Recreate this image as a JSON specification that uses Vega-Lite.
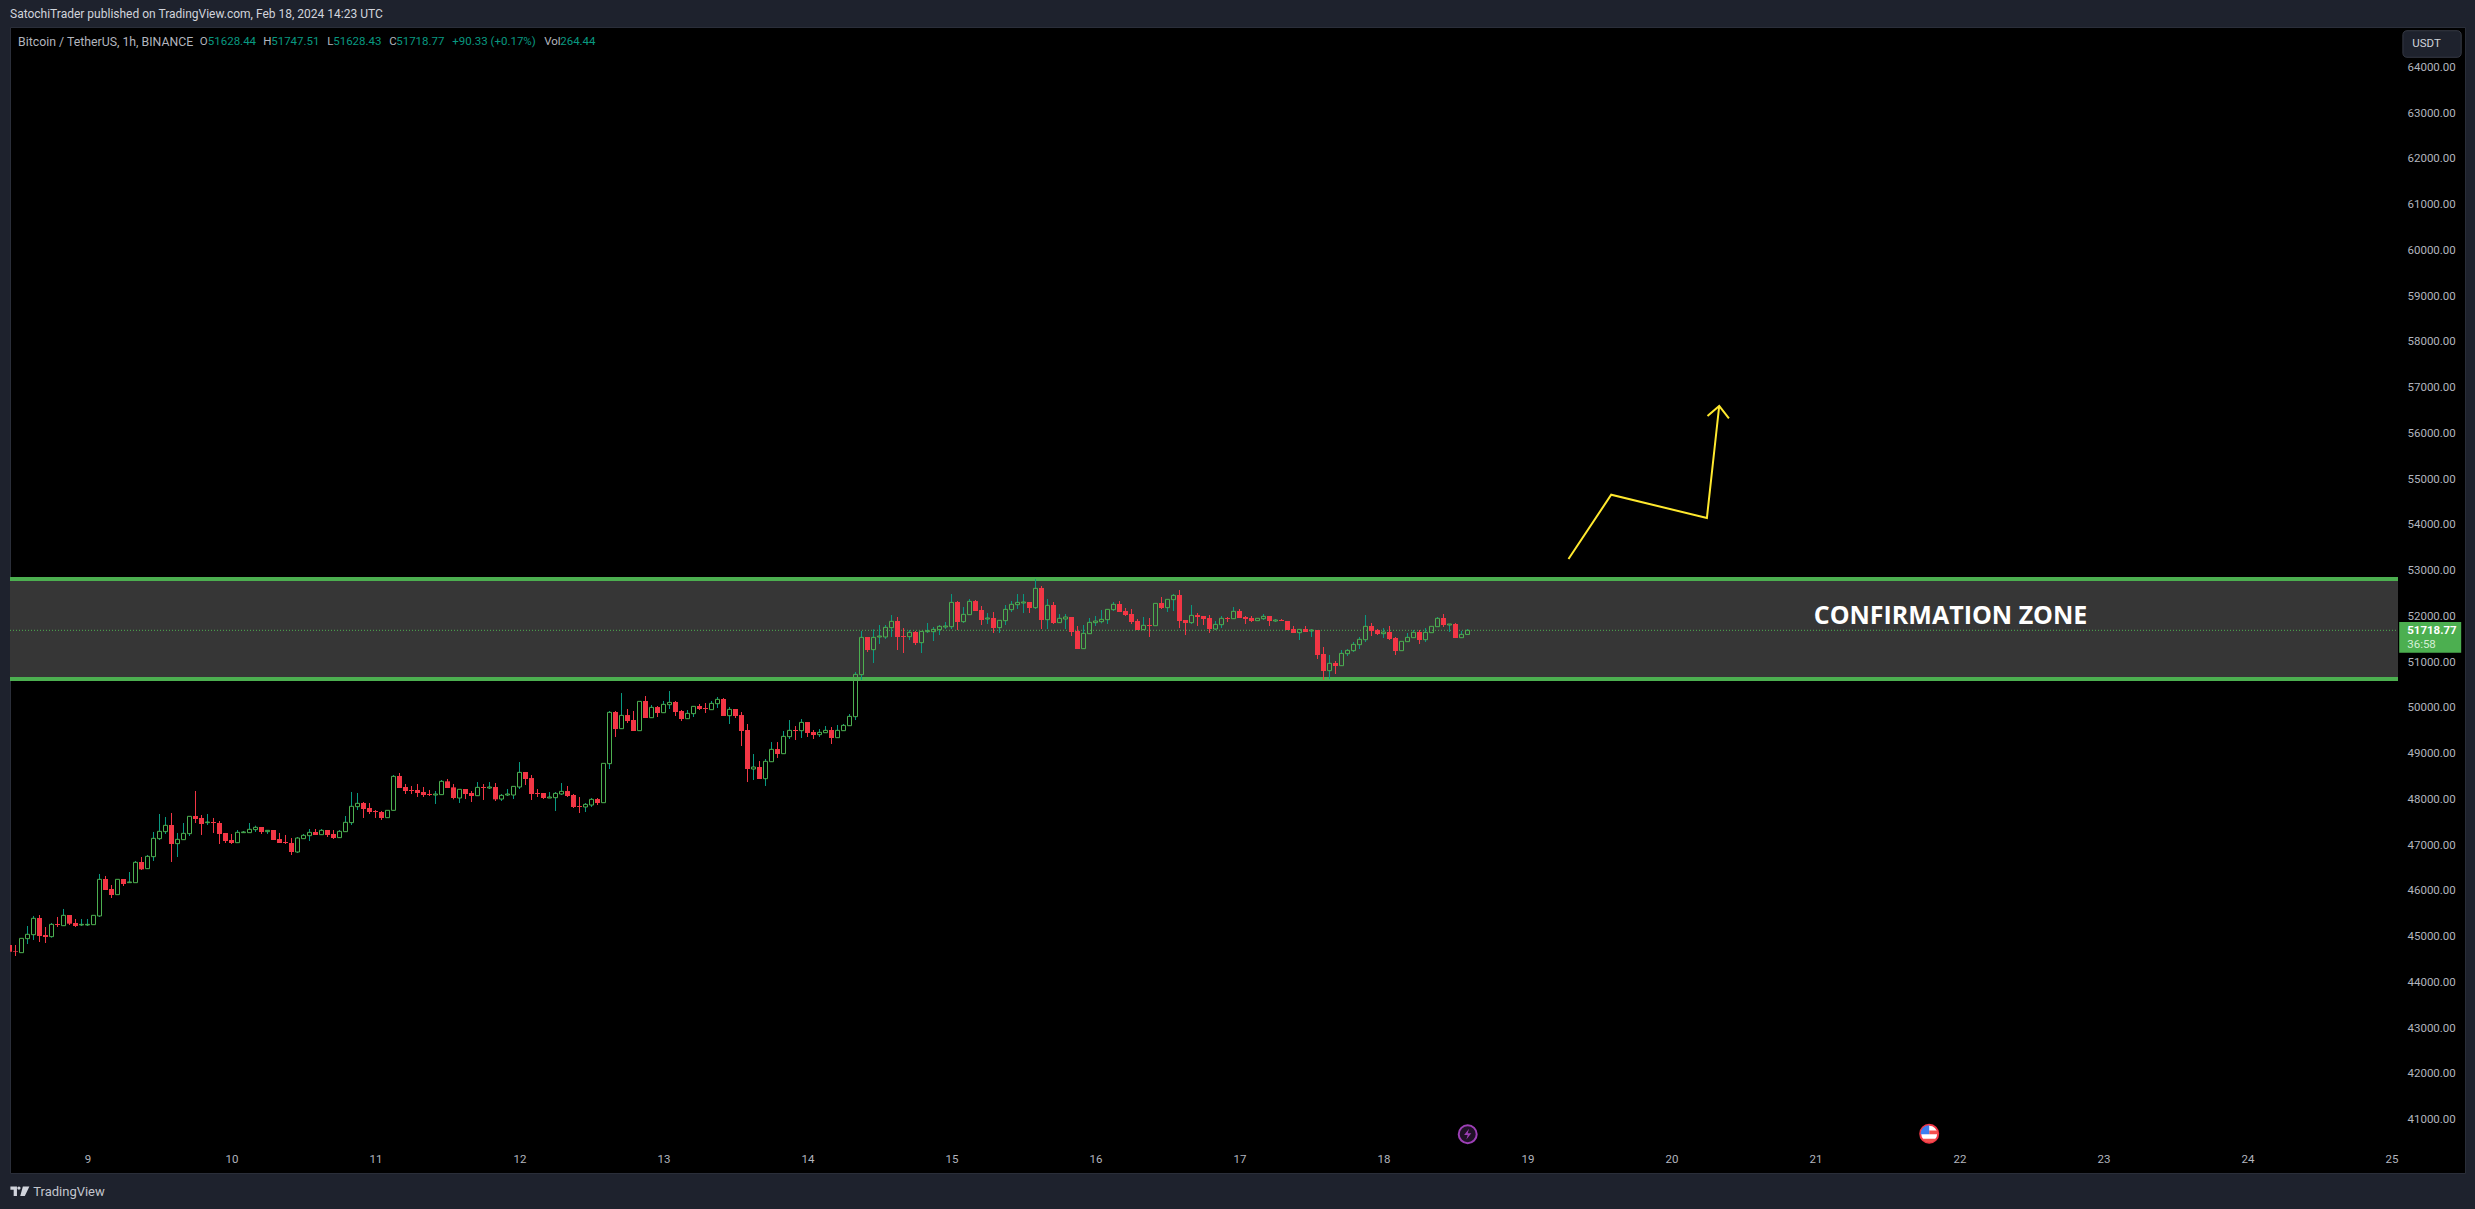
{
"$schema":"https://vega.github.io/schema/vega-lite/v6.json",
"width":2455,"height":1146,
"autosize":{"type":"none"},
"padding":{"left":10,"top":27,"right":10,"bottom":36},
"background":"#1e222d",
"config":{"view":{"stroke":"#2a2e39","fill":"#000000"}},
"title":{"text":"SatochiTrader published on TradingView.com, Feb 18, 2024 14:23 UTC","anchor":"start","frame":"group","font":"Roboto","fontSize":12,"fontWeight":"normal","color":"#d1d4dc","offset":6},
"datasets":{"candles":[
{"t":"2024-02-08T11:00:00Z","o":44841,"h":44841,"l":44695,"c":44695},
{"t":"2024-02-08T12:00:00Z","o":44709,"h":44841,"l":44600,"c":44695},
{"t":"2024-02-08T13:00:00Z","o":44673,"h":44986,"l":44673,"c":44986},
{"t":"2024-02-08T14:00:00Z","o":44979,"h":45256,"l":44862,"c":45074},
{"t":"2024-02-08T15:00:00Z","o":45066,"h":45475,"l":44950,"c":45424},
{"t":"2024-02-08T16:00:00Z","o":45431,"h":45496,"l":44906,"c":45037},
{"t":"2024-02-08T17:00:00Z","o":45059,"h":45234,"l":44884,"c":45015},
{"t":"2024-02-08T18:00:00Z","o":45023,"h":45322,"l":45001,"c":45292},
{"t":"2024-02-08T19:00:00Z","o":45300,"h":45453,"l":45234,"c":45278},
{"t":"2024-02-08T20:00:00Z","o":45263,"h":45628,"l":45256,"c":45489},
{"t":"2024-02-08T21:00:00Z","o":45496,"h":45496,"l":45278,"c":45307},
{"t":"2024-02-08T22:00:00Z","o":45322,"h":45409,"l":45234,"c":45256},
{"t":"2024-02-08T23:00:00Z","o":45278,"h":45409,"l":45256,"c":45292},
{"t":"2024-02-09T00:00:00Z","o":45278,"h":45409,"l":45256,"c":45292},
{"t":"2024-02-09T01:00:00Z","o":45285,"h":45489,"l":45285,"c":45489},
{"t":"2024-02-09T02:00:00Z","o":45475,"h":46393,"l":45453,"c":46276},
{"t":"2024-02-09T03:00:00Z","o":46283,"h":46349,"l":46043,"c":46043},
{"t":"2024-02-09T04:00:00Z","o":46065,"h":46152,"l":45868,"c":45934},
{"t":"2024-02-09T05:00:00Z","o":45941,"h":46276,"l":45941,"c":46276},
{"t":"2024-02-09T06:00:00Z","o":46283,"h":46283,"l":46130,"c":46174},
{"t":"2024-02-09T07:00:00Z","o":46203,"h":46436,"l":46203,"c":46218},
{"t":"2024-02-09T08:00:00Z","o":46203,"h":46677,"l":46203,"c":46648},
{"t":"2024-02-09T09:00:00Z","o":46655,"h":46764,"l":46480,"c":46495},
{"t":"2024-02-09T10:00:00Z","o":46509,"h":46808,"l":46502,"c":46779},
{"t":"2024-02-09T11:00:00Z","o":46771,"h":47311,"l":46677,"c":47172},
{"t":"2024-02-09T12:00:00Z","o":47165,"h":47704,"l":47136,"c":47325},
{"t":"2024-02-09T13:00:00Z","o":47318,"h":47638,"l":47267,"c":47456},
{"t":"2024-02-09T14:00:00Z","o":47464,"h":47726,"l":46655,"c":47048},
{"t":"2024-02-09T15:00:00Z","o":47056,"h":47289,"l":46764,"c":47150},
{"t":"2024-02-09T16:00:00Z","o":47143,"h":47507,"l":47136,"c":47281},
{"t":"2024-02-09T17:00:00Z","o":47274,"h":47660,"l":47223,"c":47653},
{"t":"2024-02-09T18:00:00Z","o":47660,"h":48207,"l":47507,"c":47595},
{"t":"2024-02-09T19:00:00Z","o":47617,"h":47682,"l":47245,"c":47485},
{"t":"2024-02-09T20:00:00Z","o":47515,"h":47704,"l":47464,"c":47529},
{"t":"2024-02-09T21:00:00Z","o":47529,"h":47617,"l":47289,"c":47507},
{"t":"2024-02-09T22:00:00Z","o":47507,"h":47551,"l":47048,"c":47267},
{"t":"2024-02-09T23:00:00Z","o":47289,"h":47289,"l":47070,"c":47114},
{"t":"2024-02-10T00:00:00Z","o":47136,"h":47267,"l":47048,"c":47070},
{"t":"2024-02-10T01:00:00Z","o":47077,"h":47354,"l":47070,"c":47303},
{"t":"2024-02-10T02:00:00Z","o":47296,"h":47332,"l":47289,"c":47311},
{"t":"2024-02-10T03:00:00Z","o":47296,"h":47507,"l":47289,"c":47369},
{"t":"2024-02-10T04:00:00Z","o":47362,"h":47449,"l":47311,"c":47413},
{"t":"2024-02-10T05:00:00Z","o":47420,"h":47420,"l":47267,"c":47311},
{"t":"2024-02-10T06:00:00Z","o":47318,"h":47354,"l":47267,"c":47347},
{"t":"2024-02-10T07:00:00Z","o":47354,"h":47354,"l":47136,"c":47136},
{"t":"2024-02-10T08:00:00Z","o":47158,"h":47289,"l":47070,"c":47070},
{"t":"2024-02-10T09:00:00Z","o":47092,"h":47245,"l":47048,"c":47070},
{"t":"2024-02-10T10:00:00Z","o":47070,"h":47179,"l":46808,"c":46873},
{"t":"2024-02-10T11:00:00Z","o":46873,"h":47201,"l":46852,"c":47179},
{"t":"2024-02-10T12:00:00Z","o":47165,"h":47267,"l":47158,"c":47238},
{"t":"2024-02-10T13:00:00Z","o":47230,"h":47376,"l":47114,"c":47303},
{"t":"2024-02-10T14:00:00Z","o":47311,"h":47376,"l":47245,"c":47245},
{"t":"2024-02-10T15:00:00Z","o":47252,"h":47376,"l":47245,"c":47347},
{"t":"2024-02-10T16:00:00Z","o":47354,"h":47354,"l":47201,"c":47245},
{"t":"2024-02-10T17:00:00Z","o":47267,"h":47354,"l":47158,"c":47179},
{"t":"2024-02-10T18:00:00Z","o":47187,"h":47354,"l":47179,"c":47325},
{"t":"2024-02-10T19:00:00Z","o":47318,"h":47660,"l":47311,"c":47522},
{"t":"2024-02-10T20:00:00Z","o":47515,"h":48185,"l":47464,"c":47872},
{"t":"2024-02-10T21:00:00Z","o":47864,"h":48163,"l":47791,"c":47937},
{"t":"2024-02-10T22:00:00Z","o":47944,"h":47966,"l":47617,"c":47813},
{"t":"2024-02-10T23:00:00Z","o":47835,"h":47944,"l":47704,"c":47748},
{"t":"2024-02-11T00:00:00Z","o":47770,"h":47791,"l":47617,"c":47748},
{"t":"2024-02-11T01:00:00Z","o":47748,"h":47770,"l":47573,"c":47617},
{"t":"2024-02-11T02:00:00Z","o":47624,"h":47784,"l":47624,"c":47784},
{"t":"2024-02-11T03:00:00Z","o":47784,"h":48556,"l":47777,"c":48527},
{"t":"2024-02-11T04:00:00Z","o":48535,"h":48600,"l":48272,"c":48272},
{"t":"2024-02-11T05:00:00Z","o":48294,"h":48360,"l":48141,"c":48207},
{"t":"2024-02-11T06:00:00Z","o":48229,"h":48316,"l":48141,"c":48207},
{"t":"2024-02-11T07:00:00Z","o":48229,"h":48360,"l":48076,"c":48163},
{"t":"2024-02-11T08:00:00Z","o":48185,"h":48294,"l":48076,"c":48119},
{"t":"2024-02-11T09:00:00Z","o":48141,"h":48229,"l":48097,"c":48119},
{"t":"2024-02-11T10:00:00Z","o":48119,"h":48207,"l":47923,"c":48141},
{"t":"2024-02-11T11:00:00Z","o":48127,"h":48447,"l":48119,"c":48418},
{"t":"2024-02-11T12:00:00Z","o":48418,"h":48469,"l":48272,"c":48272},
{"t":"2024-02-11T13:00:00Z","o":48286,"h":48359,"l":48024,"c":48053},
{"t":"2024-02-11T14:00:00Z","o":48053,"h":48243,"l":47944,"c":48243},
{"t":"2024-02-11T15:00:00Z","o":48250,"h":48250,"l":48031,"c":48141},
{"t":"2024-02-11T16:00:00Z","o":48163,"h":48206,"l":47966,"c":48097},
{"t":"2024-02-11T17:00:00Z","o":48104,"h":48403,"l":48097,"c":48286},
{"t":"2024-02-11T18:00:00Z","o":48294,"h":48359,"l":48010,"c":48272},
{"t":"2024-02-11T19:00:00Z","o":48272,"h":48403,"l":48250,"c":48294},
{"t":"2024-02-11T20:00:00Z","o":48294,"h":48381,"l":47988,"c":48024},
{"t":"2024-02-11T21:00:00Z","o":48031,"h":48141,"l":47988,"c":48112},
{"t":"2024-02-11T22:00:00Z","o":48119,"h":48250,"l":48097,"c":48141},
{"t":"2024-02-11T23:00:00Z","o":48119,"h":48308,"l":48031,"c":48308},
{"t":"2024-02-12T00:00:00Z","o":48294,"h":48840,"l":48250,"c":48614},
{"t":"2024-02-12T01:00:00Z","o":48622,"h":48622,"l":48337,"c":48469},
{"t":"2024-02-12T02:00:00Z","o":48490,"h":48556,"l":48010,"c":48141},
{"t":"2024-02-12T03:00:00Z","o":48163,"h":48250,"l":48075,"c":48141},
{"t":"2024-02-12T04:00:00Z","o":48163,"h":48163,"l":48031,"c":48053},
{"t":"2024-02-12T05:00:00Z","o":48053,"h":48184,"l":48053,"c":48075},
{"t":"2024-02-12T06:00:00Z","o":48061,"h":48184,"l":47769,"c":48155},
{"t":"2024-02-12T07:00:00Z","o":48141,"h":48381,"l":48119,"c":48199},
{"t":"2024-02-12T08:00:00Z","o":48206,"h":48316,"l":48075,"c":48097},
{"t":"2024-02-12T09:00:00Z","o":48119,"h":48141,"l":47835,"c":47857},
{"t":"2024-02-12T10:00:00Z","o":47878,"h":48075,"l":47725,"c":47857},
{"t":"2024-02-12T11:00:00Z","o":47857,"h":47944,"l":47747,"c":47915},
{"t":"2024-02-12T12:00:00Z","o":47900,"h":48053,"l":47857,"c":48024},
{"t":"2024-02-12T13:00:00Z","o":48031,"h":48053,"l":47900,"c":47944},
{"t":"2024-02-12T14:00:00Z","o":47951,"h":48811,"l":47951,"c":48811},
{"t":"2024-02-12T15:00:00Z","o":48804,"h":49955,"l":48687,"c":49926},
{"t":"2024-02-12T16:00:00Z","o":49933,"h":49955,"l":49387,"c":49561},
{"t":"2024-02-12T17:00:00Z","o":49569,"h":50348,"l":49561,"c":49860},
{"t":"2024-02-12T18:00:00Z","o":49867,"h":49999,"l":49693,"c":49736},
{"t":"2024-02-12T19:00:00Z","o":49758,"h":49955,"l":49518,"c":49518},
{"t":"2024-02-12T20:00:00Z","o":49525,"h":50166,"l":49525,"c":50166},
{"t":"2024-02-12T21:00:00Z","o":50174,"h":50283,"l":49802,"c":49802},
{"t":"2024-02-12T22:00:00Z","o":49809,"h":50086,"l":49802,"c":50035},
{"t":"2024-02-12T23:00:00Z","o":50042,"h":50064,"l":49824,"c":49911},
{"t":"2024-02-13T00:00:00Z","o":49918,"h":50174,"l":49911,"c":50101},
{"t":"2024-02-13T01:00:00Z","o":50093,"h":50392,"l":49999,"c":50144},
{"t":"2024-02-13T02:00:00Z","o":50152,"h":50174,"l":49846,"c":49933},
{"t":"2024-02-13T03:00:00Z","o":49955,"h":49977,"l":49736,"c":49780},
{"t":"2024-02-13T04:00:00Z","o":49787,"h":49977,"l":49780,"c":49904},
{"t":"2024-02-13T05:00:00Z","o":49897,"h":50064,"l":49824,"c":50057},
{"t":"2024-02-13T06:00:00Z","o":50064,"h":50108,"l":49977,"c":49999},
{"t":"2024-02-13T07:00:00Z","o":50021,"h":50130,"l":49911,"c":49999},
{"t":"2024-02-13T08:00:00Z","o":49984,"h":50174,"l":49977,"c":50122},
{"t":"2024-02-13T09:00:00Z","o":50115,"h":50261,"l":50021,"c":50210},
{"t":"2024-02-13T10:00:00Z","o":50217,"h":50239,"l":49846,"c":49846},
{"t":"2024-02-13T11:00:00Z","o":49853,"h":50042,"l":49671,"c":49991},
{"t":"2024-02-13T12:00:00Z","o":49999,"h":49999,"l":49802,"c":49846},
{"t":"2024-02-13T13:00:00Z","o":49867,"h":49933,"l":49190,"c":49518},
{"t":"2024-02-13T14:00:00Z","o":49540,"h":49671,"l":48403,"c":48687},
{"t":"2024-02-13T15:00:00Z","o":48687,"h":49015,"l":48447,"c":48731},
{"t":"2024-02-13T16:00:00Z","o":48731,"h":48862,"l":48469,"c":48469},
{"t":"2024-02-13T17:00:00Z","o":48476,"h":48906,"l":48316,"c":48855},
{"t":"2024-02-13T18:00:00Z","o":48847,"h":49277,"l":48840,"c":49117},
{"t":"2024-02-13T19:00:00Z","o":49124,"h":49277,"l":48928,"c":49015},
{"t":"2024-02-13T20:00:00Z","o":49022,"h":49518,"l":49015,"c":49401},
{"t":"2024-02-13T21:00:00Z","o":49394,"h":49758,"l":49343,"c":49532},
{"t":"2024-02-13T22:00:00Z","o":49540,"h":49627,"l":49321,"c":49518},
{"t":"2024-02-13T23:00:00Z","o":49525,"h":49780,"l":49365,"c":49707},
{"t":"2024-02-14T00:00:00Z","o":49714,"h":49714,"l":49387,"c":49474},
{"t":"2024-02-14T01:00:00Z","o":49496,"h":49540,"l":49343,"c":49430},
{"t":"2024-02-14T02:00:00Z","o":49438,"h":49561,"l":49387,"c":49489},
{"t":"2024-02-14T03:00:00Z","o":49481,"h":49627,"l":49474,"c":49532},
{"t":"2024-02-14T04:00:00Z","o":49540,"h":49605,"l":49234,"c":49365},
{"t":"2024-02-14T05:00:00Z","o":49372,"h":49649,"l":49365,"c":49532},
{"t":"2024-02-14T06:00:00Z","o":49525,"h":49671,"l":49518,"c":49642},
{"t":"2024-02-14T07:00:00Z","o":49634,"h":49889,"l":49627,"c":49838},
{"t":"2024-02-14T08:00:00Z","o":49831,"h":50807,"l":49758,"c":50756},
{"t":"2024-02-14T09:00:00Z","o":50749,"h":51704,"l":50633,"c":51565},
{"t":"2024-02-14T10:00:00Z","o":51573,"h":51573,"l":51245,"c":51288},
{"t":"2024-02-14T11:00:00Z","o":51296,"h":51740,"l":51004,"c":51565},
{"t":"2024-02-14T12:00:00Z","o":51573,"h":51835,"l":51420,"c":51594},
{"t":"2024-02-14T13:00:00Z","o":51573,"h":51835,"l":51529,"c":51784},
{"t":"2024-02-14T14:00:00Z","o":51777,"h":52053,"l":51573,"c":51915},
{"t":"2024-02-14T15:00:00Z","o":51922,"h":52010,"l":51288,"c":51573},
{"t":"2024-02-14T16:00:00Z","o":51594,"h":51769,"l":51223,"c":51573},
{"t":"2024-02-14T17:00:00Z","o":51580,"h":51726,"l":51507,"c":51675},
{"t":"2024-02-14T18:00:00Z","o":51682,"h":51704,"l":51398,"c":51441},
{"t":"2024-02-14T19:00:00Z","o":51449,"h":51704,"l":51223,"c":51696},
{"t":"2024-02-14T20:00:00Z","o":51689,"h":51879,"l":51660,"c":51711},
{"t":"2024-02-14T21:00:00Z","o":51689,"h":51791,"l":51485,"c":51740},
{"t":"2024-02-14T22:00:00Z","o":51733,"h":51835,"l":51616,"c":51806},
{"t":"2024-02-14T23:00:00Z","o":51791,"h":51900,"l":51747,"c":51813},
{"t":"2024-02-15T00:00:00Z","o":51798,"h":52512,"l":51747,"c":52330},
{"t":"2024-02-15T01:00:00Z","o":52338,"h":52359,"l":51726,"c":51900},
{"t":"2024-02-15T02:00:00Z","o":51908,"h":52228,"l":51879,"c":52068},
{"t":"2024-02-15T03:00:00Z","o":52061,"h":52403,"l":52053,"c":52352},
{"t":"2024-02-15T04:00:00Z","o":52359,"h":52381,"l":52141,"c":52141},
{"t":"2024-02-15T05:00:00Z","o":52163,"h":52250,"l":51835,"c":51944},
{"t":"2024-02-15T06:00:00Z","o":51966,"h":52097,"l":51857,"c":51988},
{"t":"2024-02-15T07:00:00Z","o":51988,"h":52119,"l":51660,"c":51769},
{"t":"2024-02-15T08:00:00Z","o":51777,"h":51944,"l":51660,"c":51937},
{"t":"2024-02-15T09:00:00Z","o":51930,"h":52272,"l":51835,"c":52177},
{"t":"2024-02-15T10:00:00Z","o":52170,"h":52359,"l":52119,"c":52287},
{"t":"2024-02-15T11:00:00Z","o":52279,"h":52512,"l":52185,"c":52330},
{"t":"2024-02-15T12:00:00Z","o":52316,"h":52512,"l":52097,"c":52338},
{"t":"2024-02-15T13:00:00Z","o":52338,"h":52338,"l":52097,"c":52206},
{"t":"2024-02-15T14:00:00Z","o":52214,"h":52840,"l":52185,"c":52636},
{"t":"2024-02-15T15:00:00Z","o":52644,"h":52687,"l":51747,"c":51944},
{"t":"2024-02-15T16:00:00Z","o":51951,"h":52403,"l":51747,"c":52265},
{"t":"2024-02-15T17:00:00Z","o":52272,"h":52338,"l":51857,"c":51879},
{"t":"2024-02-15T18:00:00Z","o":51886,"h":52075,"l":51879,"c":51981},
{"t":"2024-02-15T19:00:00Z","o":51966,"h":52075,"l":51747,"c":52010},
{"t":"2024-02-15T20:00:00Z","o":52010,"h":52010,"l":51594,"c":51682},
{"t":"2024-02-15T21:00:00Z","o":51704,"h":51813,"l":51310,"c":51310},
{"t":"2024-02-15T22:00:00Z","o":51318,"h":51835,"l":51310,"c":51653},
{"t":"2024-02-15T23:00:00Z","o":51645,"h":51988,"l":51638,"c":51893},
{"t":"2024-02-16T00:00:00Z","o":51886,"h":52032,"l":51813,"c":51922},
{"t":"2024-02-16T01:00:00Z","o":51908,"h":52163,"l":51871,"c":51959},
{"t":"2024-02-16T02:00:00Z","o":51951,"h":52185,"l":51857,"c":52177},
{"t":"2024-02-16T03:00:00Z","o":52170,"h":52338,"l":52141,"c":52287},
{"t":"2024-02-16T04:00:00Z","o":52294,"h":52359,"l":52119,"c":52119},
{"t":"2024-02-16T05:00:00Z","o":52141,"h":52206,"l":52032,"c":52053},
{"t":"2024-02-16T06:00:00Z","o":52075,"h":52185,"l":51857,"c":51900},
{"t":"2024-02-16T07:00:00Z","o":51922,"h":51966,"l":51726,"c":51726},
{"t":"2024-02-16T08:00:00Z","o":51733,"h":52010,"l":51726,"c":51828},
{"t":"2024-02-16T09:00:00Z","o":51835,"h":51988,"l":51573,"c":51813},
{"t":"2024-02-16T10:00:00Z","o":51820,"h":52308,"l":51820,"c":52308},
{"t":"2024-02-16T11:00:00Z","o":52316,"h":52447,"l":52185,"c":52206},
{"t":"2024-02-16T12:00:00Z","o":52214,"h":52403,"l":52119,"c":52396},
{"t":"2024-02-16T13:00:00Z","o":52389,"h":52512,"l":52141,"c":52483},
{"t":"2024-02-16T14:00:00Z","o":52491,"h":52600,"l":51769,"c":51922},
{"t":"2024-02-16T15:00:00Z","o":51944,"h":51944,"l":51616,"c":51879},
{"t":"2024-02-16T16:00:00Z","o":51886,"h":52272,"l":51857,"c":52046},
{"t":"2024-02-16T17:00:00Z","o":52053,"h":52097,"l":51813,"c":52010},
{"t":"2024-02-16T18:00:00Z","o":52032,"h":52032,"l":51835,"c":51966},
{"t":"2024-02-16T19:00:00Z","o":51988,"h":52053,"l":51660,"c":51747},
{"t":"2024-02-16T20:00:00Z","o":51747,"h":51922,"l":51726,"c":51849},
{"t":"2024-02-16T21:00:00Z","o":51842,"h":52032,"l":51769,"c":51981},
{"t":"2024-02-16T22:00:00Z","o":51988,"h":52010,"l":51900,"c":51966},
{"t":"2024-02-16T23:00:00Z","o":51973,"h":52228,"l":51966,"c":52134},
{"t":"2024-02-17T00:00:00Z","o":52141,"h":52185,"l":51988,"c":51988},
{"t":"2024-02-17T01:00:00Z","o":52010,"h":52032,"l":51857,"c":51966},
{"t":"2024-02-17T02:00:00Z","o":51988,"h":52032,"l":51900,"c":51922},
{"t":"2024-02-17T03:00:00Z","o":51930,"h":51981,"l":51930,"c":51981},
{"t":"2024-02-17T04:00:00Z","o":51973,"h":52075,"l":51944,"c":52024},
{"t":"2024-02-17T05:00:00Z","o":52032,"h":52032,"l":51813,"c":51922},
{"t":"2024-02-17T06:00:00Z","o":51922,"h":51966,"l":51900,"c":51944},
{"t":"2024-02-17T07:00:00Z","o":51944,"h":51966,"l":51922,"c":51922},
{"t":"2024-02-17T08:00:00Z","o":51922,"h":51922,"l":51726,"c":51726},
{"t":"2024-02-17T09:00:00Z","o":51747,"h":51813,"l":51660,"c":51660},
{"t":"2024-02-17T10:00:00Z","o":51667,"h":51747,"l":51507,"c":51740},
{"t":"2024-02-17T11:00:00Z","o":51747,"h":51813,"l":51682,"c":51682},
{"t":"2024-02-17T12:00:00Z","o":51704,"h":51747,"l":51573,"c":51726},
{"t":"2024-02-17T13:00:00Z","o":51726,"h":51726,"l":51092,"c":51179},
{"t":"2024-02-17T14:00:00Z","o":51201,"h":51354,"l":50633,"c":50829},
{"t":"2024-02-17T15:00:00Z","o":50837,"h":51179,"l":50654,"c":50997},
{"t":"2024-02-17T16:00:00Z","o":51004,"h":51048,"l":50764,"c":50939},
{"t":"2024-02-17T17:00:00Z","o":50946,"h":51288,"l":50939,"c":51215},
{"t":"2024-02-17T18:00:00Z","o":51208,"h":51310,"l":51157,"c":51281},
{"t":"2024-02-17T19:00:00Z","o":51274,"h":51463,"l":51245,"c":51412},
{"t":"2024-02-17T20:00:00Z","o":51405,"h":51573,"l":51310,"c":51522},
{"t":"2024-02-17T21:00:00Z","o":51514,"h":52053,"l":51463,"c":51806},
{"t":"2024-02-17T22:00:00Z","o":51813,"h":51879,"l":51594,"c":51704},
{"t":"2024-02-17T23:00:00Z","o":51726,"h":51747,"l":51616,"c":51638},
{"t":"2024-02-18T00:00:00Z","o":51645,"h":51769,"l":51551,"c":51682},
{"t":"2024-02-18T01:00:00Z","o":51682,"h":51813,"l":51507,"c":51529},
{"t":"2024-02-18T02:00:00Z","o":51551,"h":51573,"l":51179,"c":51267},
{"t":"2024-02-18T03:00:00Z","o":51274,"h":51478,"l":51274,"c":51478},
{"t":"2024-02-18T04:00:00Z","o":51471,"h":51660,"l":51463,"c":51565},
{"t":"2024-02-18T05:00:00Z","o":51558,"h":51726,"l":51551,"c":51675},
{"t":"2024-02-18T06:00:00Z","o":51682,"h":51726,"l":51420,"c":51507},
{"t":"2024-02-18T07:00:00Z","o":51514,"h":51769,"l":51463,"c":51675},
{"t":"2024-02-18T08:00:00Z","o":51667,"h":51806,"l":51667,"c":51806},
{"t":"2024-02-18T09:00:00Z","o":51798,"h":52010,"l":51791,"c":51981},
{"t":"2024-02-18T10:00:00Z","o":51988,"h":52075,"l":51791,"c":51835},
{"t":"2024-02-18T11:00:00Z","o":51835,"h":51857,"l":51682,"c":51857},
{"t":"2024-02-18T12:00:00Z","o":51857,"h":51879,"l":51551,"c":51551},
{"t":"2024-02-18T13:00:00Z","o":51558,"h":51704,"l":51551,"c":51631},
{"t":"2024-02-18T14:00:00Z","o":51628.44,"h":51747.51,"l":51628.43,"c":51718.77}
]},
"encoding":{
"x":{"field":"t","type":"temporal","scale":{"type":"utc","padding":0,"domain":["2024-02-08T11:05:00Z","2024-02-25T12:15:00Z"]},"axis":{"title":null,"orient":"bottom","offset":-22,"domain":false,"ticks":false,"grid":false,"format":"%-d","tickCount":{"interval":"day","step":1},"labelFont":"Roboto","labelFontSize":11.5,"labelColor":"#b2b5be","labelPadding":2,"labelOverlap":false,"labelFlush":false}},
"y":{"field":"p","type":"quantitative","scale":{"domain":[39857,64906],"zero":false,"nice":false},"axis":{"title":null,"orient":"right","offset":-67,"domain":false,"ticks":false,"grid":false,"values":[41000,42000,43000,44000,45000,46000,47000,48000,49000,50000,51000,52000,53000,54000,55000,56000,57000,58000,59000,60000,61000,62000,63000,64000],"format":".2f","labelFont":"Roboto","labelFontSize":11.5,"labelColor":"#b2b5be","labelPadding":9,"labelOffset":-1,"labelOverlap":false,"labelFlush":false}}
},
"layer":[
{"data":{"values":[{"t":"2024-02-08T11:05:00Z","t2":"2024-02-25T01:05:00Z","p":52840,"p2":50654}]},"mark":{"type":"rect","fill":"#363636","clip":true},"encoding":{"x2":{"field":"t2"},"y2":{"field":"p2"}}},
{"data":{"values":[{"t":"2024-02-08T11:05:00Z","t2":"2024-02-25T01:05:00Z","p":52840},{"t":"2024-02-08T11:05:00Z","t2":"2024-02-25T01:05:00Z","p":50654}]},"mark":{"type":"rule","stroke":"#4caf50","strokeWidth":4},"encoding":{"x2":{"field":"t2"}}},
{"data":{"values":[{"t":"2024-02-08T11:05:00Z","t2":"2024-02-25T01:05:00Z","p":51718.77}]},"mark":{"type":"rule","stroke":"#4caf50","strokeWidth":1,"strokeDash":[1,2]},"encoding":{"x2":{"field":"t2"}}},
{"data":{"name":"candles"},"transform":[{"filter":"datum.c<datum.o"}],"mark":{"type":"rule","stroke":"#f23645","strokeWidth":1,"clip":true},"encoding":{"y":{"field":"l","type":"quantitative","title":null,"scale":{"domain":[39857,64906],"zero":false,"nice":false}},"y2":{"field":"h"}}},
{"data":{"name":"candles"},"transform":[{"filter":"datum.c>=datum.o"}],"mark":{"type":"rule","stroke":"#089981","strokeWidth":1,"clip":true},"encoding":{"y":{"field":"c","type":"quantitative","title":null,"scale":{"domain":[39857,64906],"zero":false,"nice":false}},"y2":{"field":"h"}}},
{"data":{"name":"candles"},"transform":[{"filter":"datum.c>=datum.o"}],"mark":{"type":"rule","stroke":"#089981","strokeWidth":1,"clip":true},"encoding":{"y":{"field":"l","type":"quantitative","title":null,"scale":{"domain":[39857,64906],"zero":false,"nice":false}},"y2":{"field":"o"}}},
{"data":{"name":"candles"},"transform":[{"filter":"datum.c<datum.o"}],"mark":{"type":"bar","size":5,"fill":"#f23645","clip":true},"encoding":{"y":{"field":"o","type":"quantitative","title":null,"scale":{"domain":[39857,64906],"zero":false,"nice":false}},"y2":{"field":"c"}}},
{"data":{"name":"candles"},"transform":[{"filter":"datum.c>=datum.o"}],"mark":{"type":"bar","size":4,"fill":"transparent","stroke":"#4caf50","strokeWidth":1,"clip":true},"encoding":{"y":{"field":"o","type":"quantitative","title":null,"scale":{"domain":[39857,64906],"zero":false,"nice":false}},"y2":{"field":"c"}}},
{"data":{"values":[
{"t":"2024-02-19T06:50:00Z","p":53277,"leg":"path","n":1},{"t":"2024-02-19T13:57:00Z","p":54683,"leg":"path","n":2},{"t":"2024-02-20T05:54:00Z","p":54174,"leg":"path","n":3},{"t":"2024-02-20T07:57:00Z","p":56622,"leg":"path","n":4},
{"t":"2024-02-20T06:00:00Z","p":56403,"leg":"head","n":1},{"t":"2024-02-20T07:57:00Z","p":56622,"leg":"head","n":2},{"t":"2024-02-20T09:34:00Z","p":56353,"leg":"head","n":3}
]},"mark":{"type":"line","stroke":"#ffe92e","strokeWidth":2},"encoding":{"detail":{"field":"leg"},"order":{"field":"n"}}},
{"data":{"values":[{"t":"2024-02-20T23:42:00Z","p":52035,"label":"CONFIRMATION ZONE"}]},"mark":{"type":"text","align":"left","baseline":"middle","font":"Open Sans","fontWeight":"bold","fontSize":25,"fill":"#ffffff"},"encoding":{"text":{"field":"label"}}},
{"data":{"values":[{"t":"2024-02-25T01:17:00Z","t2":"2024-02-25T11:37:00Z","p":51900,"p2":51229}]},"mark":{"type":"rect","fill":"#4caf50"},"encoding":{"x2":{"field":"t2"},"y2":{"field":"p2"}}},
{"data":{"values":[{"t":"2024-02-25T02:37:00Z","p":51710,"label":"51718.77"}]},"mark":{"type":"text","align":"left","baseline":"middle","font":"Roboto","fontWeight":"bold","fontSize":11.5,"fill":"#ffffff"},"encoding":{"text":{"field":"label"}}},
{"data":{"values":[{"t":"2024-02-25T02:37:00Z","p":51404,"label":"36:58"}]},"mark":{"type":"text","align":"left","baseline":"middle","font":"Roboto","fontSize":11.5,"fill":"#d5efd6"},"encoding":{"text":{"field":"label"}}},
{"data":{"values":[{"t":"2024-02-25T01:54:00Z","t2":"2024-02-25T11:37:00Z","p":64825,"p2":64244}]},"mark":{"type":"rect","fill":"#1e222d","stroke":"#363a45","strokeWidth":1,"cornerRadius":4},"encoding":{"x2":{"field":"t2"},"y2":{"field":"p2"}}},
{"data":{"values":[{"t":"2024-02-25T03:27:00Z","p":64528,"label":"USDT"}]},"mark":{"type":"text","align":"left","baseline":"middle","font":"Roboto","fontSize":11.5,"fill":"#d1d4dc"},"encoding":{"text":{"field":"label"}}},
{"data":{"values":[{"t":"2024-02-08T12:26:00Z","p":64589,"label":"Bitcoin / TetherUS, 1h, BINANCE"}]},"mark":{"type":"text","align":"left","baseline":"middle","font":"Roboto","fontSize":12.3,"fill":"#b2b5be"},"encoding":{"text":{"field":"label"}}},
{"data":{"values":[
{"t":"2024-02-09T18:43:00Z","p":64589,"label":"O"},
{"t":"2024-02-10T05:17:00Z","p":64589,"label":"H"},
{"t":"2024-02-10T15:57:00Z","p":64589,"label":"L"},
{"t":"2024-02-11T02:17:00Z","p":64589,"label":"C"},
{"t":"2024-02-12T04:07:00Z","p":64589,"label":"Vol"}
]},"mark":{"type":"text","align":"left","baseline":"middle","font":"Roboto","fontSize":11.5,"fill":"#b2b5be"},"encoding":{"text":{"field":"label"}}},
{"data":{"values":[
{"t":"2024-02-09T20:03:00Z","p":64589,"label":"51628.44"},
{"t":"2024-02-10T06:37:00Z","p":64589,"label":"51747.51"},
{"t":"2024-02-10T16:57:00Z","p":64589,"label":"51628.43"},
{"t":"2024-02-11T03:27:00Z","p":64589,"label":"51718.77"},
{"t":"2024-02-11T12:47:00Z","p":64589,"label":"+90.33 (+0.17%)"},
{"t":"2024-02-12T06:47:00Z","p":64589,"label":"264.44"}
]},"mark":{"type":"text","align":"left","baseline":"middle","font":"Roboto","fontSize":11.5,"fill":"#089981"},"encoding":{"text":{"field":"label"}}},
{"data":{"values":[{"t":"2024-02-08T14:57:00Z","p":39448,"label":"TradingView"}]},"mark":{"type":"text","align":"left","baseline":"middle","font":"Roboto","fontSize":13,"fill":"#c3c6ce"},"encoding":{"text":{"field":"label"}}},
{"data":{"values":[{"t":"2024-02-08T12:44:00Z","p":39463}]},"mark":{"type":"point","filled":true,"fill":"#d1d4dc","opacity":1,"strokeWidth":0,"size":361,"shape":"M-1 -0.483H-0.31V0.517H-0.655V-0.138H-1ZM-0.27 -0.31a0.17 0.17 0 1 0 0.34 0a0.17 0.17 0 1 0 -0.34 0ZM0.31 -0.483H1L0.517 0.517H0.034Z"}},
{"data":{"values":[{"t":"2024-02-18T14:02:00Z","p":40705}]},"mark":{"type":"point","shape":"circle","filled":true,"fill":"#1f1126","stroke":"#9c3fb5","strokeWidth":2,"opacity":1,"size":324}},
{"data":{"values":[{"t":"2024-02-18T14:02:00Z","p":40705}]},"mark":{"type":"point","filled":true,"fill":"#9c3fb5","strokeWidth":0,"opacity":1,"size":324,"shape":"M0.15 -0.6L-0.4 0.1H0L-0.15 0.6L0.4 -0.1H0Z"}},
{"data":{"values":[{"t":"2024-02-21T18:57:00Z","p":40715}]},"mark":{"type":"point","shape":"circle","filled":true,"fill":"#ffffff","stroke":"#f23645","strokeWidth":2,"opacity":1,"size":324}},
{"data":{"values":[{"t":"2024-02-21T18:57:00Z","p":40715}]},"mark":{"type":"point","filled":true,"fill":"#f4504e","strokeWidth":0,"opacity":1,"size":324,"shape":"M0 -0.35H0.95V0.05H0ZM-0.8 0.55H0.8A1 1 0 0 1 -0.8 0.55Z"}},
{"data":{"values":[{"t":"2024-02-21T18:57:00Z","p":40715}]},"mark":{"type":"point","filled":true,"fill":"#3d7ef0","strokeWidth":0,"opacity":1,"size":324,"shape":"M0 -0.95A0.95 0.95 0 0 0 -0.95 0.05H0Z"}}
]
}
